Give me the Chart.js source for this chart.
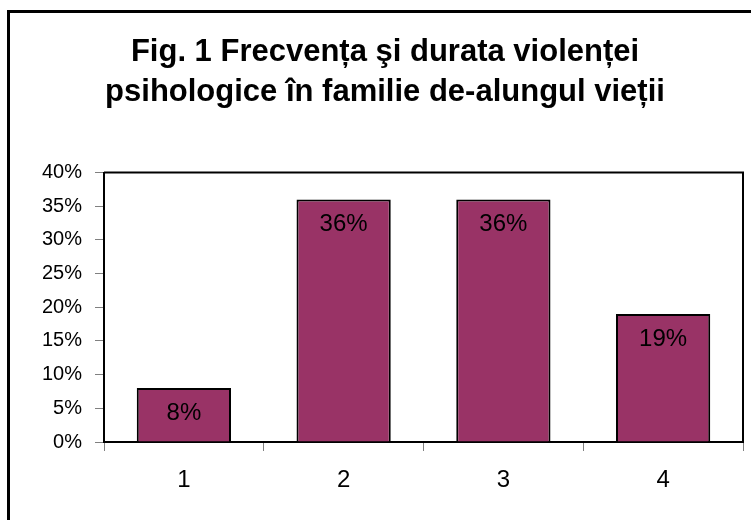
<!DOCTYPE html>
<html>
<head>
<meta charset="utf-8">
<script src="https://cdn.jsdelivr.net/npm/chart.js@4.4.1/dist/chart.umd.min.js"></script>
<style>
  html, body { margin: 0; padding: 0; background: #fff; overflow: hidden; }
  #wrap { position: absolute; left: 0; top: 0; width: 770px; height: 540px; }
  #frame {
    position: absolute; left: 7px; top: 10px; width: 800px; height: 600px;
    border: 3px solid #000; pointer-events: none;
  }
</style>
</head>
<body>
<div id="wrap"><canvas id="chart"></canvas></div>
<div id="frame"></div>
<script>
// Data
const categories = ["1", "2", "3", "4"];
const values = [8, 36, 36, 19];
const yTicks = [0, 5, 10, 15, 20, 25, 30, 35, 40];
const titleLines = [
  "Fig. 1 Frecvența şi durata violenței",
  "psihologice în familie de-alungul vieții",
];

const FONT = "'Liberation Sans', Arial, sans-serif";

// border around the plot area (top + right), like the Excel plot box
const plotBox = {
  id: "plotBox",
  afterDraw(chart) {
    const { ctx, chartArea: a } = chart;
    ctx.save();
    ctx.strokeStyle = "#000";
    ctx.lineWidth = 2;
    ctx.beginPath();
    ctx.moveTo(a.left, a.top);
    ctx.lineTo(a.right, a.top);
    ctx.lineTo(a.right, a.bottom);
    ctx.stroke();
    ctx.restore();
  },
};

// value labels inside the bars, near the top
const barLabels = {
  id: "barLabels",
  afterDatasetsDraw(chart) {
    const { ctx } = chart;
    const meta = chart.getDatasetMeta(0);
    ctx.save();
    ctx.fillStyle = "#000";
    ctx.font = "24px " + FONT;
    ctx.textAlign = "center";
    ctx.textBaseline = "middle";
    meta.data.forEach((bar, i) => {
      ctx.fillText(values[i] + "%", bar.x, bar.y + 25);
    });
    ctx.restore();
  },
};

new Chart(document.getElementById("chart"), {
  type: "bar",
  data: {
    labels: categories,
    datasets: [
      {
        data: values,
        backgroundColor: "#993366",
        borderColor: "#000",
        borderWidth: 2,
        categoryPercentage: 1,
        barPercentage: 0.59,
      },
    ],
  },
  options: {
    responsive: true,
    maintainAspectRatio: false,
    animation: false,
    layout: { padding: { left: 27, right: 27, top: 0, bottom: 0 } },
    plugins: {
      legend: { display: false },
      tooltip: { enabled: false },
      title: {
        display: true,
        text: titleLines,
        color: "#000",
        font: { family: FONT, size: 31, weight: "bold", lineHeight: 1.3 },
        padding: { top: 32, bottom: 60 },
      },
    },
    scales: {
      y: {
        min: 0,
        max: 40,
        afterBuildTicks: (axis) => {
          axis.ticks = yTicks.map((v) => ({ value: v }));
        },
        afterFit: (axis) => {
          axis.width = 77;
        },
        ticks: {
          color: "#000",
          font: { family: FONT, size: 20 },
          padding: 13,
          callback: (v) => v + "%",
        },
        grid: {
          drawOnChartArea: false,
          drawTicks: true,
          tickLength: 9,
          color: "#808080",
        },
        border: { display: true, color: "#000", width: 2 },
      },
      x: {
        afterFit: (axis) => {
          axis.height = 98;
        },
        ticks: {
          color: "#000",
          font: { family: FONT, size: 24 },
          padding: 15,
        },
        grid: {
          offset: true,
          drawOnChartArea: false,
          drawTicks: true,
          tickLength: 9,
          color: "#808080",
        },
        border: { display: true, color: "#000", width: 2 },
      },
    },
  },
  plugins: [plotBox, barLabels],
});
</script>
</body>
</html>
